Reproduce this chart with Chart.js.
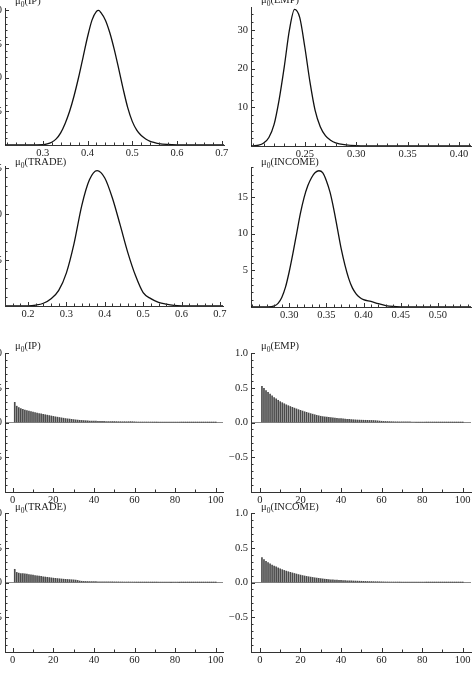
<!DOCTYPE html>
<html>
<head>
<meta charset="utf-8">
<script src="https://cdn.jsdelivr.net/npm/chart.js@4.4.0/dist/chart.umd.min.js"></script>
<style>
  html, body { margin: 0; padding: 0; background: #fff; }
  body { width: 473px; height: 684px; position: relative; overflow: hidden; }
  .panel { position: absolute; }
</style>
</head>
<body>
<script>
// Posterior densities (grid of mu0 values and density heights)
const ipGrid = [0.215, 0.30, 0.31, 0.32, 0.33, 0.34, 0.35, 0.36, 0.37, 0.38, 0.39, 0.40, 0.41, 0.42, 0.425, 0.43, 0.44, 0.45, 0.46, 0.47, 0.48, 0.49, 0.50, 0.51, 0.52, 0.53, 0.54, 0.55, 0.56, 0.58, 0.60, 0.65, 0.706];
const ipDensity = [0, 0.05, 0.15, 0.4, 0.9, 1.8, 3.2, 5.0, 7.3, 10.0, 13.0, 16.0, 18.5, 19.8, 19.95, 19.6, 18.5, 16.6, 14.1, 11.2, 8.2, 5.5, 3.5, 2.2, 1.4, 0.9, 0.55, 0.35, 0.2, 0.08, 0.03, 0, 0];

const empGrid = [0.197, 0.200, 0.205, 0.210, 0.215, 0.220, 0.225, 0.230, 0.235, 0.240, 0.245, 0.250, 0.255, 0.260, 0.265, 0.270, 0.275, 0.280, 0.290, 0.300, 0.320, 0.412];
const empDensity = [0, 0.05, 0.2, 0.8, 2.2, 5.5, 12.0, 20.5, 30.0, 35.3, 33.2, 25.5, 16.5, 9.2, 5.0, 2.7, 1.5, 0.8, 0.3, 0.1, 0, 0];

const tradeGrid = [0.14, 0.20, 0.22, 0.24, 0.26, 0.28, 0.30, 0.32, 0.34, 0.36, 0.38, 0.40, 0.42, 0.44, 0.46, 0.48, 0.50, 0.52, 0.54, 0.56, 0.58, 0.60, 0.65, 0.71];
const tradeDensity = [0, 0.02, 0.1, 0.3, 0.8, 1.7, 3.6, 6.8, 10.9, 13.7, 14.7, 13.9, 11.7, 8.8, 5.8, 3.3, 1.45, 0.8, 0.4, 0.2, 0.07, 0.02, 0, 0];

const incomeGrid = [0.248, 0.27, 0.28, 0.285, 0.29, 0.295, 0.30, 0.305, 0.31, 0.315, 0.32, 0.325, 0.33, 0.335, 0.34, 0.345, 0.35, 0.355, 0.36, 0.365, 0.37, 0.375, 0.38, 0.385, 0.39, 0.395, 0.40, 0.41, 0.42, 0.43, 0.44, 0.45, 0.47, 0.545];
const incomeDensity = [0, 0.02, 0.15, 0.5, 1.3, 2.7, 4.8, 7.3, 10.0, 12.7, 14.9, 16.5, 17.6, 18.3, 18.55, 18.3, 17.2, 15.6, 13.3, 10.6, 7.9, 5.7, 3.9, 2.6, 1.8, 1.3, 1.0, 0.75, 0.45, 0.2, 0.08, 0.03, 0, 0];

// Autocorrelations of the draws, lags 1..100
const lags = Array.from({ length: 100 }, (_, i) => i + 1);
const ipAcf = [0.29, 0.235, 0.215, 0.2, 0.19, 0.18, 0.172, 0.165, 0.158, 0.15,
  0.143, 0.136, 0.13, 0.124, 0.118, 0.112, 0.106, 0.1, 0.094, 0.088,
  0.082, 0.077, 0.072, 0.067, 0.062, 0.057, 0.053, 0.05, 0.046, 0.042,
  0.038, 0.035, 0.032, 0.03, 0.028, 0.026, 0.024, 0.022, 0.021, 0.02,
  0.019, 0.018, 0.017, 0.016, 0.016, 0.015, 0.015, 0.014, 0.014, 0.014,
  0.013, 0.012, 0.012, 0.011, 0.012, 0.011, 0.012, 0.013, 0.012, 0.01,
  0.008, 0.007, 0.006, 0.006, 0.007, 0.006, 0.007, 0.006, 0.005, 0.005,
  0.004, 0.005, 0.004, 0.004, 0.003, 0.004, 0.004, 0.003, 0.003, 0.004,
  0.003, 0.003, 0.004, 0.003, 0.003, 0.002, 0.003, 0.003, 0.002, 0.003,
  0.002, 0.003, 0.002, 0.002, 0.003, 0.002, 0.002, 0.002, 0.002, 0.002];
const empAcf = [0.52, 0.49, 0.46, 0.435, 0.41, 0.385, 0.36, 0.34, 0.32, 0.3,
  0.285, 0.27, 0.255, 0.242, 0.23, 0.218, 0.207, 0.196, 0.185, 0.175,
  0.165, 0.155, 0.146, 0.137, 0.128, 0.12, 0.112, 0.104, 0.097, 0.09,
  0.085, 0.081, 0.077, 0.073, 0.07, 0.067, 0.064, 0.061, 0.058, 0.055,
  0.052, 0.049, 0.046, 0.044, 0.042, 0.04, 0.038, 0.036, 0.035, 0.034,
  0.033, 0.032, 0.031, 0.03, 0.03, 0.029, 0.027, 0.024, 0.021, 0.018,
  0.016, 0.015, 0.014, 0.013, 0.012, 0.011, 0.01, 0.01, 0.009, 0.009,
  0.008, 0.008, 0.009, 0.008, 0.007, 0.007, 0.006, 0.006, 0.005, 0.005,
  0.005, 0.004, 0.004, 0.005, 0.004, 0.004, 0.003, 0.004, 0.003, 0.003,
  0.003, 0.003, 0.002, 0.003, 0.002, 0.002, 0.002, 0.002, 0.002, 0.002];
const tradeAcf = [0.19, 0.145, 0.135, 0.13, 0.127, 0.123, 0.12, 0.115, 0.11, 0.105,
  0.1, 0.096, 0.092, 0.088, 0.083, 0.079, 0.075, 0.071, 0.067, 0.063,
  0.06, 0.057, 0.054, 0.051, 0.048, 0.046, 0.044, 0.042, 0.04, 0.038,
  0.035, 0.03, 0.022, 0.018, 0.016, 0.015, 0.014, 0.013, 0.013, 0.012,
  0.012, 0.011, 0.011, 0.01, 0.01, 0.011, 0.01, 0.009, 0.01, 0.009,
  0.009, 0.009, 0.008, 0.008, 0.007, 0.007, 0.008, 0.007, 0.007, 0.006,
  0.005, 0.005, 0.004, 0.005, 0.004, 0.004, 0.005, 0.004, 0.003, 0.004,
  0.004, 0.003, 0.003, 0.004, 0.003, 0.003, 0.003, 0.002, 0.003, 0.003,
  0.003, 0.002, 0.003, 0.002, 0.002, 0.003, 0.002, 0.002, 0.002, 0.003,
  0.002, 0.002, 0.002, 0.002, 0.003, 0.002, 0.002, 0.002, 0.002, 0.002];
const incomeAcf = [0.36, 0.33, 0.305, 0.285, 0.268, 0.252, 0.238, 0.224, 0.21, 0.197,
  0.185, 0.174, 0.164, 0.155, 0.146, 0.138, 0.13, 0.122, 0.114, 0.107,
  0.1, 0.094, 0.088, 0.083, 0.078, 0.073, 0.068, 0.064, 0.06, 0.056,
  0.052, 0.048, 0.045, 0.042, 0.04, 0.038, 0.036, 0.034, 0.032, 0.03,
  0.028, 0.027, 0.025, 0.024, 0.023, 0.022, 0.021, 0.02, 0.019, 0.018,
  0.017, 0.016, 0.015, 0.014, 0.014, 0.013, 0.012, 0.012, 0.011, 0.01,
  0.009, 0.008, 0.008, 0.007, 0.007, 0.006, 0.006, 0.006, 0.005, 0.005,
  0.005, 0.005, 0.004, 0.004, 0.004, 0.004, 0.004, 0.003, 0.004, 0.003,
  0.003, 0.003, 0.003, 0.003, 0.003, 0.002, 0.003, 0.003, 0.002, 0.003,
  0.002, 0.002, 0.003, 0.002, 0.002, 0.002, 0.002, 0.003, 0.002, 0.002];

// Tick values
const ipXTicks = [0.3, 0.4, 0.5, 0.6, 0.7];
const empXTicks = [0.25, 0.30, 0.35, 0.40];
const tradeXTicks = [0.2, 0.3, 0.4, 0.5, 0.6, 0.7];
const incomeXTicks = [0.30, 0.35, 0.40, 0.45, 0.50];
const ipYTicks = [5, 10, 15, 20];
const empYTicks = [10, 20, 30];
const tradeYTicks = [5, 10, 15];
const incomeYTicks = [5, 10, 15];
const lagTicks = [0, 20, 40, 60, 80, 100];
const acfYTicks = [-0.5, 0, 0.5, 1];

// Layout: box = [axis left, axis top, axis right, axis bottom] in page pixels
const PAD_L = 40, PAD_T = 14, PAD_R = 10, PAD_B = 20;
const FONT = '"Liberation Serif", "Times New Roman", serif';
const INK = '#222';

const panels = [
  { name: 'IP', kind: 'density', box: [5, 8, 224, 145], xs: ipGrid, ys: ipDensity,
    xRange: [0.2156, 0.705], yRange: [0, 20.3], xTicks: ipXTicks, xDec: 1, xMinor: 0.02,
    yTicks: ipYTicks, yDec: 0, yMinor: 1, titleDy: -4 },
  { name: 'EMP', kind: 'density', box: [251, 7, 471, 146], xs: empGrid, ys: empDensity,
    xRange: [0.1976, 0.4117], yRange: [0, 35.9], xTicks: empXTicks, xDec: 2, xMinor: 0.01,
    yTicks: empYTicks, yDec: 0, yMinor: 2, titleDy: -4 },
  { name: 'TRADE', kind: 'density', box: [5, 166, 223, 306], xs: tradeGrid, ys: tradeDensity,
    xRange: [0.14, 0.708], yRange: [0, 15.2], xTicks: tradeXTicks, xDec: 1, xMinor: 0.02,
    yTicks: tradeYTicks, yDec: 0, yMinor: 1, titleDy: -1 },
  { name: 'INCOME', kind: 'density', box: [251, 167, 471, 307], xs: incomeGrid, ys: incomeDensity,
    xRange: [0.2486, 0.5446], yRange: [0, 19.06], xTicks: incomeXTicks, xDec: 2, xMinor: 0.01,
    yTicks: incomeYTicks, yDec: 0, yMinor: 1, titleDy: -2 },
  { name: 'IP', kind: 'acf', box: [5, 353, 223, 492], xs: lags, ys: ipAcf,
    xRange: [-3.8, 103.6], yRange: [-1, 1], xTicks: lagTicks, xDec: 0, xMinor: 10,
    yTicks: acfYTicks, yDec: 1, yMinor: 0.1, titleDy: -4 },
  { name: 'EMP', kind: 'acf', box: [251, 353, 471, 492], xs: lags, ys: empAcf,
    xRange: [-4.4, 104.1], yRange: [-1, 1], xTicks: lagTicks, xDec: 0, xMinor: 10,
    yTicks: acfYTicks, yDec: 1, yMinor: 0.1, titleDy: -4 },
  { name: 'TRADE', kind: 'acf', box: [5, 513, 223, 652], xs: lags, ys: tradeAcf,
    xRange: [-3.8, 103.6], yRange: [-1, 1], xTicks: lagTicks, xDec: 0, xMinor: 10,
    yTicks: acfYTicks, yDec: 1, yMinor: 0.1, titleDy: -3 },
  { name: 'INCOME', kind: 'acf', box: [251, 513, 471, 652], xs: lags, ys: incomeAcf,
    xRange: [-4.4, 104.1], yRange: [-1, 1], xTicks: lagTicks, xDec: 0, xMinor: 10,
    yTicks: acfYTicks, yDec: 1, yMinor: 0.1, titleDy: -3 },
];

function fmt(v, dec) {
  return v.toFixed(dec).replace('-', '\u2212');
}

// inward major/minor tick marks and the mu_0(...) label
const axisDecor = {
  id: 'axisDecor',
  afterDraw(chart, args, opts) {
    const { ctx, chartArea: a, scales: { x, y } } = chart;
    ctx.save();
    ctx.strokeStyle = '#333';
    ctx.lineWidth = 1;
    ctx.beginPath();
    const marks = (scale, majors, step, draw) => {
      const eps = step * 1e-3;
      let v = Math.ceil((scale.min - eps) / step) * step;
      for (; v <= scale.max + eps; v += step) {
        const isMajor = majors.some(m => Math.abs(m - v) < eps);
        draw(Math.round(scale.getPixelForValue(v)) + 0.5, isMajor ? 4 : 2.5);
      }
      majors.forEach(m => draw(Math.round(scale.getPixelForValue(m)) + 0.5, 4));
    };
    marks(x, opts.xTicks, opts.xMinor, (px, len) => {
      ctx.moveTo(px, a.bottom); ctx.lineTo(px, a.bottom - len);
    });
    marks(y, opts.yTicks, opts.yMinor, (py, len) => {
      ctx.moveTo(a.left, py); ctx.lineTo(a.left + len, py);
    });
    ctx.stroke();

    ctx.fillStyle = INK;
    ctx.textBaseline = 'alphabetic';
    let tx = a.left + 10;
    const ty = a.top + opts.titleDy;
    ctx.font = '10.5px ' + FONT;
    ctx.fillText('\u03bc', tx, ty);
    tx += ctx.measureText('\u03bc').width;
    ctx.font = '7.5px ' + FONT;
    ctx.fillText('0', tx, ty + 2.5);
    tx += ctx.measureText('0').width;
    ctx.font = '10.5px ' + FONT;
    ctx.fillText('(' + opts.name + ')', tx, ty);
    ctx.restore();
  }
};

function makeChart(p) {
  const [ax, at, ar, ab] = p.box;
  const w = ar - ax + PAD_L + PAD_R;
  const h = ab - at + PAD_T + PAD_B;
  const wrap = document.createElement('div');
  wrap.className = 'panel';
  wrap.style.left = (ax - PAD_L) + 'px';
  wrap.style.top = (at - PAD_T) + 'px';
  wrap.style.width = w + 'px';
  wrap.style.height = h + 'px';
  const cv = document.createElement('canvas');
  cv.width = w; cv.height = h;
  cv.style.width = w + 'px'; cv.style.height = h + 'px';
  wrap.appendChild(cv);
  document.body.appendChild(wrap);

  const isAcf = p.kind === 'acf';
  const points = p.xs.map((v, i) => ({ x: v, y: p.ys[i] }));
  const dataset = isAcf
    ? { data: points, backgroundColor: '#4a4a4a', borderWidth: 0, barThickness: 1, grouped: false }
    : { data: points, borderColor: '#111', borderWidth: 1.3, pointRadius: 0, fill: false,
        cubicInterpolationMode: 'monotone' };

  const tickFont = { family: FONT, size: 10.5 };

  new Chart(cv, {
    type: isAcf ? 'bar' : 'line',
    data: { datasets: [dataset] },
    options: {
      responsive: false,
      animation: false,
      devicePixelRatio: 1,
      layout: { padding: { top: PAD_T, right: PAD_R, left: 0, bottom: 0 } },
      plugins: {
        legend: { display: false },
        tooltip: { enabled: false },
        axisDecor: { name: p.name, titleDy: p.titleDy, xTicks: p.xTicks, yTicks: p.yTicks,
          xMinor: p.xMinor, yMinor: p.yMinor }
      },
      scales: {
        x: {
          type: 'linear', min: p.xRange[0], max: p.xRange[1], offset: false,
          grid: { display: false, drawTicks: false },
          border: { display: true, color: '#333', width: 1 },
          ticks: { font: tickFont, color: INK, padding: 2, autoSkip: false, maxRotation: 0,
            callback: (v) => fmt(v, p.xDec) },
          afterBuildTicks: (s) => { s.ticks = p.xTicks.map(v => ({ value: v })); },
          afterFit: (s) => { s.height = PAD_B; }
        },
        y: {
          type: 'linear', min: p.yRange[0], max: p.yRange[1],
          grid: {
            display: isAcf, drawTicks: false, lineWidth: 1,
            color: (c) => (c.tick && c.tick.value === 0 ? '#8a8a8a' : 'rgba(0,0,0,0)')
          },
          border: { display: true, color: '#333', width: 1 },
          ticks: { font: tickFont, color: INK, padding: 3, autoSkip: false,
            callback: (v) => fmt(v, p.yDec) },
          afterBuildTicks: (s) => { s.ticks = p.yTicks.map(v => ({ value: v })); },
          afterFit: (s) => { s.width = PAD_L; }
        }
      }
    },
    plugins: [axisDecor]
  });
}

panels.forEach(makeChart);
</script>
</body>
</html>
